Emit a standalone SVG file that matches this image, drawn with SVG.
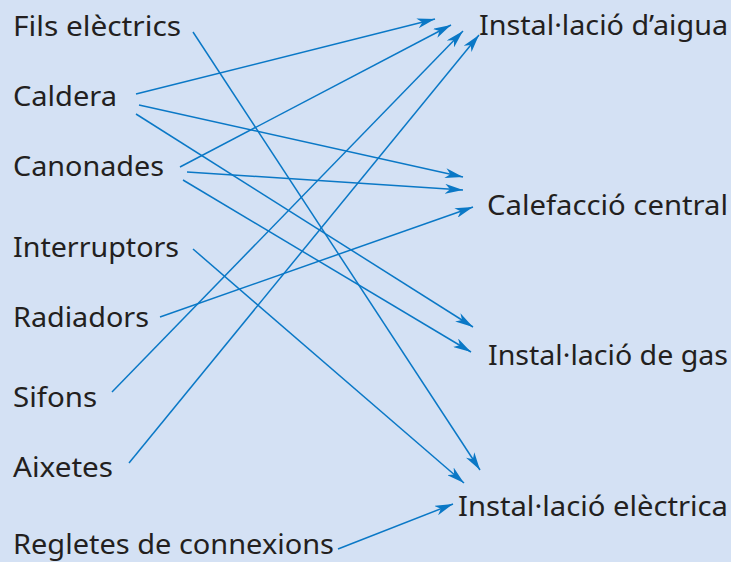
<svg xmlns="http://www.w3.org/2000/svg" width="731" height="562" viewBox="0 0 731 562">
<defs>
<style>
.bg{fill:#d4e1f4}
.t{font-family:"Noto Sans","Open Sans","Liberation Sans",sans-serif;font-size:28px;fill:#231f20}
.c{fill:none;stroke:#0a78c6;stroke-width:1.5}
</style>
<marker id="ah" viewBox="0 0 18 10" refX="18" refY="5" markerWidth="18" markerHeight="10" markerUnits="userSpaceOnUse" orient="auto">
<path d="M0,0 L18,5 L0,10 L5,5 Z" fill="#0a78c6"/>
</marker>
</defs>
<rect class="bg" x="0" y="0" width="731" height="562"/>
<g id="connectors">
<line class="c" x1="193" y1="32" x2="480" y2="470" marker-end="url(#ah)"/>
<line class="c" x1="136" y1="94" x2="435" y2="19" marker-end="url(#ah)"/>
<line class="c" x1="139" y1="105" x2="463" y2="177" marker-end="url(#ah)"/>
<line class="c" x1="136" y1="114" x2="473" y2="327" marker-end="url(#ah)"/>
<line class="c" x1="180" y1="167" x2="451" y2="25" marker-end="url(#ah)"/>
<line class="c" x1="187" y1="172" x2="463" y2="190" marker-end="url(#ah)"/>
<line class="c" x1="183" y1="180" x2="471" y2="352" marker-end="url(#ah)"/>
<line class="c" x1="193" y1="249" x2="464" y2="483" marker-end="url(#ah)"/>
<line class="c" x1="160" y1="317" x2="473" y2="207" marker-end="url(#ah)"/>
<line class="c" x1="112" y1="392" x2="463" y2="31" marker-end="url(#ah)"/>
<line class="c" x1="129" y1="463" x2="479" y2="35" marker-end="url(#ah)"/>
<line class="c" x1="338" y1="549" x2="453" y2="504" marker-end="url(#ah)"/>
</g>
<g id="fils"><text class="t" x="13" y="36" textLength="168" lengthAdjust="spacingAndGlyphs">Fils elèctrics</text></g>
<g id="caldera"><text class="t" x="13" y="106" textLength="104" lengthAdjust="spacingAndGlyphs">Caldera</text></g>
<g id="canonades"><text class="t" x="13" y="176" textLength="151" lengthAdjust="spacingAndGlyphs">Canonades</text></g>
<g id="interruptors"><text class="t" x="13" y="257" textLength="166" lengthAdjust="spacingAndGlyphs">Interruptors</text></g>
<g id="radiadors"><text class="t" x="13" y="327" textLength="136" lengthAdjust="spacingAndGlyphs">Radiadors</text></g>
<g id="sifons"><text class="t" x="13" y="407" textLength="84" lengthAdjust="spacingAndGlyphs">Sifons</text></g>
<g id="aixetes"><text class="t" x="13" y="477" textLength="100" lengthAdjust="spacingAndGlyphs">Aixetes</text></g>
<g id="regletes"><text class="t" x="13" y="554" textLength="321" lengthAdjust="spacingAndGlyphs">Regletes de connexions</text></g>
<g id="aigua"><text class="t" x="479" y="35" textLength="249" lengthAdjust="spacingAndGlyphs">Instal·lació d’aigua</text></g>
<g id="calefaccio"><text class="t" x="487" y="215" textLength="241" lengthAdjust="spacingAndGlyphs">Calefacció central</text></g>
<g id="gas"><text class="t" x="488" y="365" textLength="240" lengthAdjust="spacingAndGlyphs">Instal·lació de gas</text></g>
<g id="electrica"><text class="t" x="458" y="516" textLength="270" lengthAdjust="spacingAndGlyphs">Instal·lació elèctrica</text></g>
</svg>
